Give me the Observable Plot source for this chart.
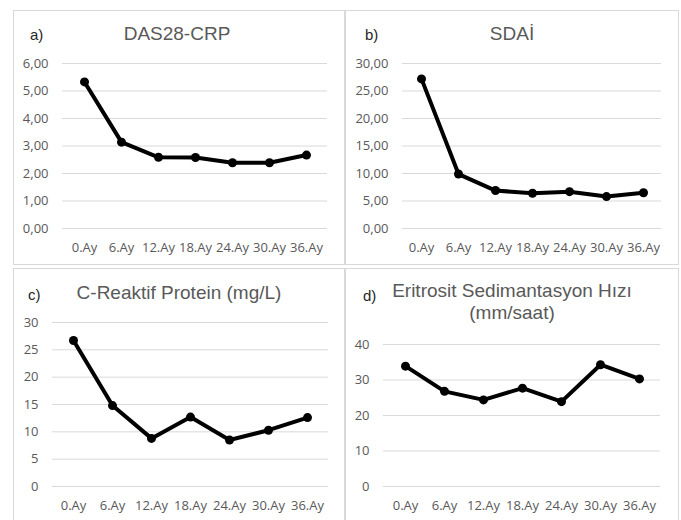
<!DOCTYPE html>
<html>
<head>
<meta charset="utf-8">
<script src="https://cdn.jsdelivr.net/npm/d3@7"></script>
<script src="https://cdn.jsdelivr.net/npm/@observablehq/plot@0.6"></script>
<style>
  html, body { margin: 0; padding: 0; background: #fff; }
  #wrap { position: relative; width: 681px; height: 520px; overflow: hidden; background: #fff; }
  .box { position: absolute; border: 1px solid #d9d9d9; box-sizing: border-box; }
  .plot { position: absolute; }
  .title { position: absolute; font-family: "Liberation Sans", Arial, sans-serif; font-size: 19px; line-height: 19px; color: #595959; white-space: nowrap; }
  .tag { position: absolute; font-family: "Liberation Sans", Arial, sans-serif; font-size: 15px; line-height: 15px; color: #262626; white-space: nowrap; }
</style>
</head>
<body>
<div id="wrap"></div>
<script>
// ---- data ----
const months = ["0.Ay", "6.Ay", "12.Ay", "18.Ay", "24.Ay", "30.Ay", "36.Ay"];
const das28 = [5.33, 3.14, 2.59, 2.58, 2.39, 2.39, 2.67];
const sdai = [27.2, 9.9, 6.9, 6.4, 6.7, 5.8, 6.5];
const crp = [26.7, 14.8, 8.8, 12.7, 8.5, 10.3, 12.6];
const esr = [33.9, 26.8, 24.4, 27.7, 23.9, 34.3, 30.3];

const ticksDas = [0, 1, 2, 3, 4, 5, 6];
const ticksSdai = [0, 5, 10, 15, 20, 25, 30];
const ticksCrp = [0, 5, 10, 15, 20, 25, 30];
const ticksEsr = [0, 10, 20, 30, 40];

const titles = ["DAS28-CRP", "SDAİ", "C-Reaktif Protein (mg/L)", ["Eritrosit Sedimantasyon Hızı", "(mm/saat)"]];
const tags = ["a)", "b)", "c)", "d)"];

// ---- layout ----
const wrap = document.getElementById("wrap");
const fmt2 = d => d.toFixed(2).replace(".", ",");
const fmt0 = d => String(d);

const panels = [
  {vals: das28, ticks: ticksDas, fmt: fmt2, left: 13, top: 10, w: 332, h: 255, ml: 49, mr: 18, mt: 53, mb: 37},
  {vals: sdai, ticks: ticksSdai, fmt: fmt2, left: 345, top: 10, w: 334, h: 255, ml: 57, mr: 18, mt: 53, mb: 37},
  {vals: crp, ticks: ticksCrp, fmt: fmt0, left: 13, top: 268, w: 332, h: 252, ml: 39, mr: 17, mt: 54, mb: 34},
  {vals: esr, ticks: ticksEsr, fmt: fmt0, left: 345, top: 268, w: 334, h: 252, ml: 38, mr: 19, mt: 76, mb: 34}
];

function addDiv(cls, css, text) {
  const d = document.createElement("div");
  d.className = cls;
  Object.assign(d.style, css);
  if (text != null) d.textContent = text;
  wrap.appendChild(d);
  return d;
}

panels.forEach((p, i) => {
  addDiv("box", {left: p.left + "px", top: p.top + "px", width: p.w + "px", height: (i < 2 ? p.h : p.h + 20) + "px"});
  const data = months.map((m, k) => ({m, v: p.vals[k]}));
  const chart = Plot.plot({
    width: p.w,
    height: p.h,
    marginLeft: p.ml,
    marginRight: p.mr,
    marginTop: p.mt,
    marginBottom: p.mb,
    style: {fontFamily: "'Open Sans', sans-serif", fontSize: "13px", color: "#595959", background: "transparent", overflow: "visible"},
    x: {type: "point", domain: months, padding: 0.5, label: null},
    y: {domain: [p.ticks[0], p.ticks[p.ticks.length - 1]], label: null},
    marks: [
      Plot.ruleY(p.ticks, {stroke: "#d9d9d9", strokeWidth: 1}),
      Plot.axisY({ticks: p.ticks, tickSize: 0, tickPadding: 14, tickFormat: p.fmt, label: null, fill: "#595959"}),
      Plot.axisX({tickSize: 0, tickPadding: 14, label: null, fill: "#595959"}),
      Plot.line(data, {x: "m", y: "v", stroke: "black", strokeWidth: 4, strokeLinejoin: "round", strokeLinecap: "round"}),
      Plot.dot(data, {x: "m", y: "v", r: 4.5, fill: "black", stroke: "none"})
    ]
  });
  const holder = addDiv("plot", {left: p.left + "px", top: p.top + "px"});
  holder.appendChild(chart);
});

// titles: top = baseline - 0.8465*fontSize
const B19 = 0.8465 * 19, B15 = 0.8465 * 15;
function title(text, cx, baseline) {
  return addDiv("title", {top: (baseline - B19) + "px", left: cx + "px", transform: "translateX(-50%)"}, text);
}
function tag(text, x, baseline) {
  addDiv("tag", {top: (baseline - B15) + "px", left: x + "px"}, text);
}

tag(tags[0], 30, 40);
title(titles[0], 177, 40);
tag(tags[1], 365, 40);
title(titles[1], 512, 40);
tag(tags[2], 28, 300);
title(titles[2], 179, 299);
tag(tags[3], 363, 301);
title(titles[3][0], 512, 297);
title(titles[3][1], 512, 319);
</script>
</body>
</html>
